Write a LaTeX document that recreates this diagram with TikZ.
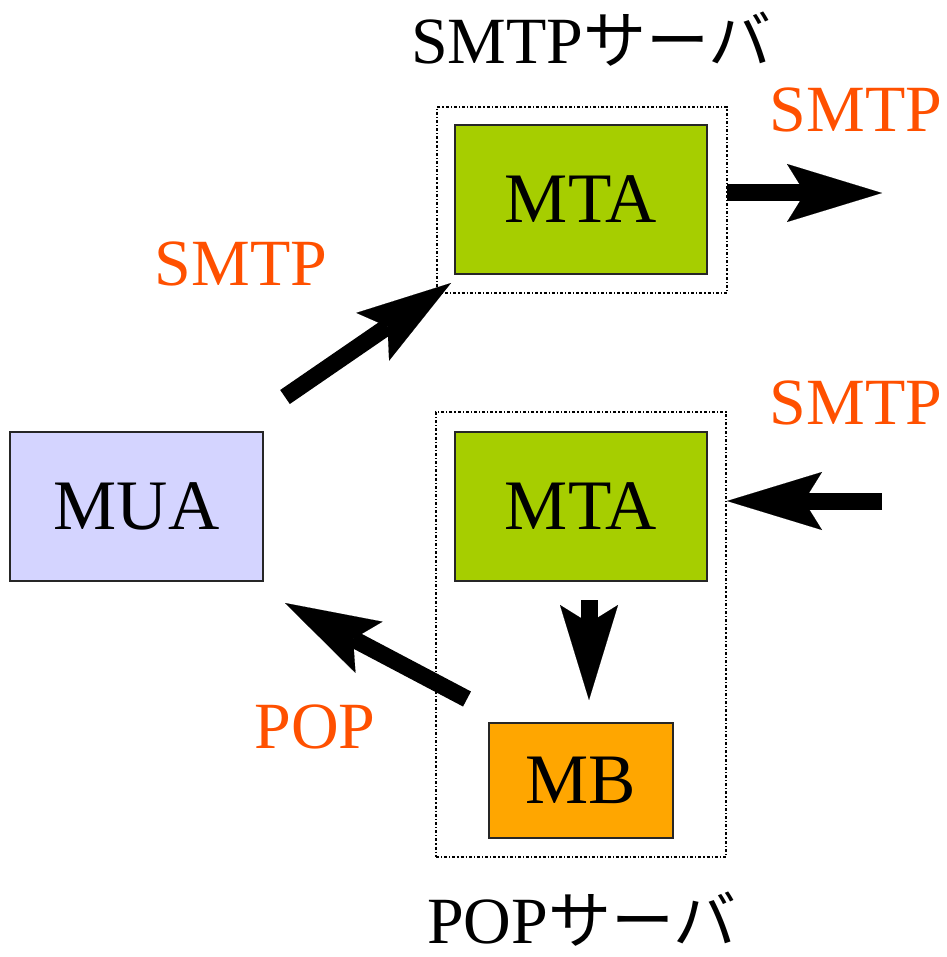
\documentclass[tikz,border=0pt]{standalone}
\usepackage{fontspec}
\setmainfont{Liberation Serif}
\newfontfamily\jp{Noto Sans CJK JP}
\usetikzlibrary{arrows.meta}
\definecolor{muacol}{RGB}{212,212,255}
\definecolor{mtacol}{RGB}{166,206,0}
\definecolor{mbcol}{RGB}{255,166,0}
\definecolor{proto}{RGB}{255,80,0}
\begin{document}
\begin{tikzpicture}[x=1pt,y=-1pt,
  box/.style={draw=black!85,line width=1.4pt,inner sep=0pt,font=\fontsize{71}{71}\selectfont},
  server/.style={draw,dash pattern=on 3pt off 2pt on 1.2pt off 2pt,inner sep=0pt},
  proto/.style={text=proto,inner sep=0pt,font=\fontsize{66}{66}\selectfont},
  title/.style={inner sep=0pt,font=\fontsize{66}{66}\selectfont},
  bigarrow/.style={line width=17pt,-{Stealth[length=95pt,width=58pt,inset=18pt,line width=0.1pt]}}]
\useasboundingbox (0,0) rectangle (946,957);
% server boxes
\node[server,line width=2.8pt,minimum width=290pt,minimum height=186pt] (smtpsrv) at (582,200) {};
\node[server,line width=1.8pt,minimum width=290pt,minimum height=445pt] (popsrv) at (581,634.5) {};
% components
\node[box,fill=muacol,minimum width=253pt,minimum height=149pt] (mua) at (136.5,506.5) {MUA};
\node[box,fill=mtacol,minimum width=252pt,minimum height=149pt] (mta1) at (581,199.5) {MTA};
\node[box,fill=mtacol,minimum width=252pt,minimum height=149pt] (mta2) at (581,506.5) {MTA};
\node[box,fill=mbcol,minimum width=184pt,minimum height=115pt] (mb) at (581,780.5) {MB};
% titles
\node[title,anchor=base west] (t1) at (411,64) {SMTP{\jp\fontsize{63}{63}\selectfont サーバ}};
\node[title,anchor=base west] (t2) at (427,943) {POP{\jp\fontsize{63}{63}\selectfont サーバ}};
% protocol labels
\node[proto] (l1) at (241,264) {SMTP};
\node[proto] (l2) at (856,110) {SMTP};
\node[proto] (l3) at (856,403) {SMTP};
\node[proto] (l4) at (315,727) {POP};
% arrow end points
\coordinate (a1s) at (285,397);
\coordinate (a1e) at (451,283);
\coordinate (a2s) at (727,193);
\coordinate (a2e) at (882,193);
\coordinate (a3s) at (882,501);
\coordinate (a3e) at (727,501);
\coordinate (a4s) at (589,600);
\coordinate (a4e) at (589,700);
\coordinate (a5s) at (467,699);
\coordinate (a5e) at (285,603);
\draw[bigarrow] (a1s) -- (a1e);
\draw[bigarrow] (a2s) -- (a2e);
\draw[bigarrow] (a3s) -- (a3e);
\draw[bigarrow] (a4s) -- (a4e);
\draw[bigarrow] (a5s) -- (a5e);
\end{tikzpicture}
\end{document}
